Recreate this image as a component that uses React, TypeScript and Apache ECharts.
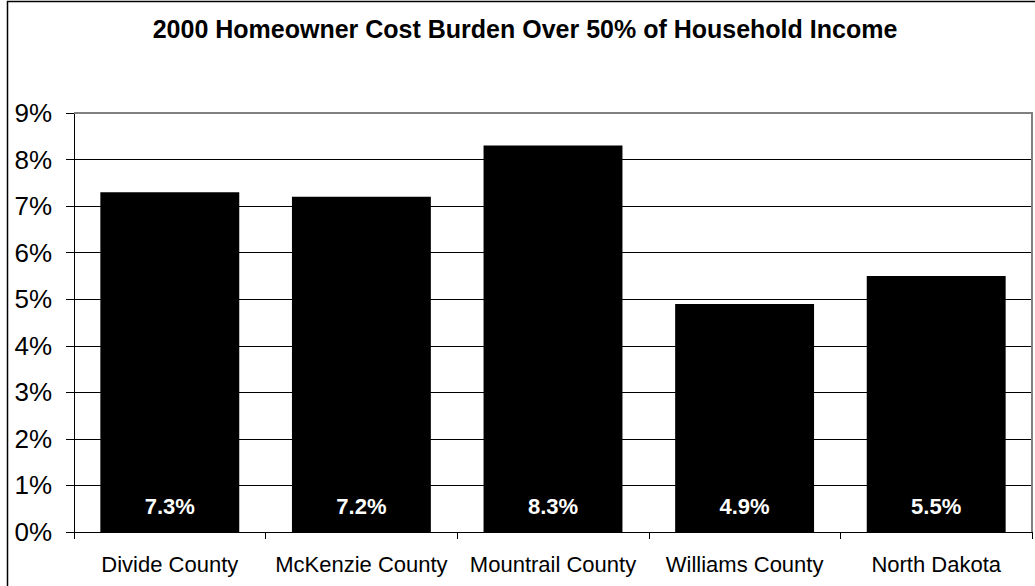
import React, { useEffect, useRef } from "react";
import * as echarts from "echarts";

const titleText = "2000 Homeowner Cost Burden Over 50% of Household Income";
const categories = ["Divide County", "McKenzie County", "Mountrail County", "Williams County", "North Dakota"];
const values = [7.3, 7.2, 8.3, 4.9, 5.5];
const yTicks = [0, 1, 2, 3, 4, 5, 6, 7, 8, 9];

const FONT = '"Liberation Sans", Arial, sans-serif';

export default function App() {
  const ref = useRef<HTMLDivElement>(null);
  useEffect(() => {
    if (!ref.current) return;
    const chart = echarts.init(ref.current, null, { renderer: "svg" });
    chart.setOption({
      animation: false,
      backgroundColor: "#ffffff",
      title: {
        text: titleText,
        left: 520,
        textAlign: "center",
        top: 11,
        textStyle: { fontFamily: FONT, fontSize: 25, fontWeight: "bold", color: "#000" },
      },
      graphic: [
        {
          type: "rect",
          shape: { x: 7.5, y: 1.5, width: 1200, height: 800 },
          style: { fill: "none", stroke: "#000", lineWidth: 1.5 },
          silent: true,
        },
        {
          type: "polyline",
          shape: { points: [[74, 113], [1032, 113], [1032, 532]] },
          style: { fill: "none", stroke: "#808080", lineWidth: 2 },
          silent: true,
          z: 10,
        },
      ],
      grid: { left: 74, right: 3, top: 113, bottom: 54, containLabel: false },
      xAxis: {
        type: "category",
        data: categories,
        axisLine: { show: true, lineStyle: { color: "#000", width: 1 } },
        axisTick: { show: true, length: 7, inside: false, alignWithLabel: false, lineStyle: { color: "#000" } },
        axisLabel: { fontFamily: FONT, fontSize: 22, color: "#000", margin: 21, interval: 0 },
        splitLine: { show: false },
      },
      yAxis: {
        type: "value",
        min: yTicks[0],
        max: yTicks[yTicks.length - 1],
        interval: 1,
        axisLine: { show: true, lineStyle: { color: "#000", width: 1 } },
        axisTick: { show: true, length: 8, inside: false, lineStyle: { color: "#000" } },
        axisLabel: {
          fontFamily: FONT,
          fontSize: 26,
          color: "#000",
          margin: 22,
          formatter: (v: number) => `${v}%`,
        },
        splitLine: { show: true, lineStyle: { color: "#000", width: 1 } },
      },
      series: [
        {
          type: "bar",
          data: values,
          barCategoryGap: "27.5%",
          itemStyle: { color: "#000" },
          label: {
            show: true,
            position: "insideBottom",
            distance: 15,
            formatter: (p: any) => `${p.value.toFixed(1)}%`,
            fontFamily: FONT,
            fontSize: 22,
            fontWeight: "bold",
            color: "#fff",
          },
        },
      ],
    });
    return () => chart.dispose();
  }, []);
  return (
    <div
      ref={ref}
      style={{ position: "fixed", left: 0, top: 0, width: 1035, height: 586 }}
    />
  );
}
